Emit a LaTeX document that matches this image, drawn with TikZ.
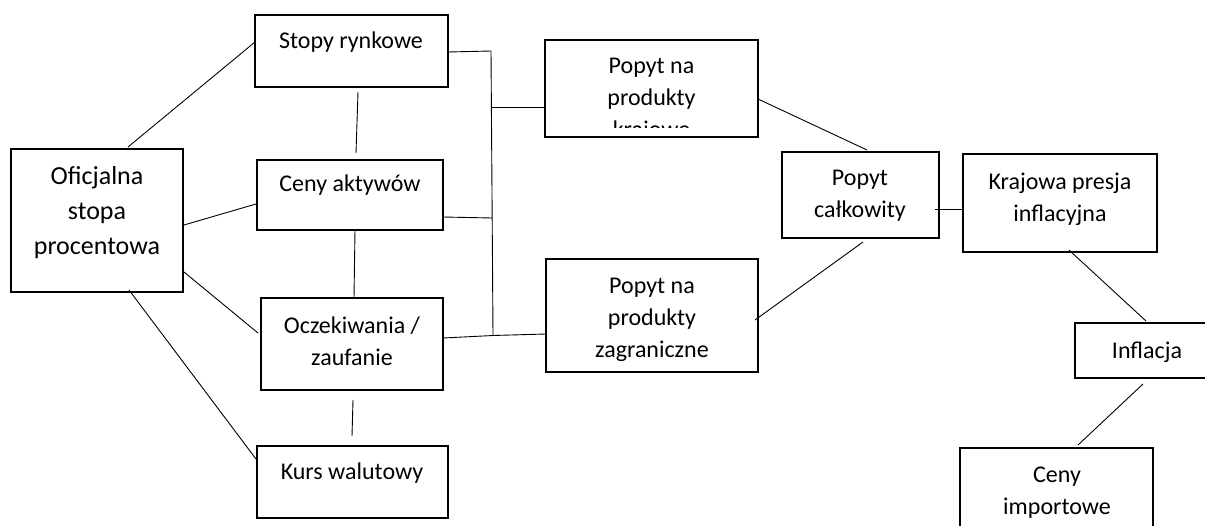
\documentclass[tikz,border=0pt]{standalone}
\usepackage{fontspec}
\setmainfont{Carlito}
\usetikzlibrary{calc}
\begin{document}
\begin{tikzpicture}[x=1pt,y=-1pt,
  box/.style={draw=black,line width=2.2pt,inner sep=0pt,outer sep=0pt,rectangle},
  txt/.style={align=center,inner sep=0pt,font=\fontsize{24}{32}\selectfont},
  bigtxt/.style={align=center,inner sep=0pt,font=\fontsize{26}{35}\selectfont},
  link/.style={draw=black,line width=0.9pt}]
\useasboundingbox (0,0) rectangle (1205,525);
\clip (0,0) rectangle (1205,525);
% boxes
\node[box,minimum width=172pt,minimum height=143pt] (ofic) at (97,220.5) {};
\node[box,minimum width=193pt,minimum height=72pt] (stopy) at (351.5,51) {};
\node[box,minimum width=186pt,minimum height=70pt] (ceny) at (350,195) {};
\node[box,minimum width=182pt,minimum height=92pt] (ocz) at (352,344) {};
\node[box,minimum width=191pt,minimum height=72pt] (kurs) at (352.5,482) {};
\node[box,minimum width=213pt,minimum height=97pt] (kraj) at (651.5,88.5) {};
\node[box,minimum width=212pt,minimum height=113pt] (zagr) at (652,315.5) {};
\node[box,minimum width=157pt,minimum height=86pt] (calk) at (860.5,195) {};
\node[box,minimum width=194pt,minimum height=98pt] (presja) at (1060,203) {};
\node[box,minimum width=135pt,minimum height=55pt] (infl) at (1142.5,350.5) {};
\node[box,minimum width=193pt,minimum height=92pt] (imp) at (1056.5,494) {};
% texts
\node[bigtxt] (ofic-t) at (97,213) {Oficjalna\\stopa\\procentowa};
\node[txt] (stopy-t) at (351,42) {Stopy rynkowe};
\node[txt] (ceny-t) at (350,185) {Ceny aktywów};
\node[txt] (ocz-t) at (352,341) {Oczekiwania /\\zaufanie};
\node[txt] (kurs-t) at (352,473) {Kurs walutowy};
\begin{scope}
  \clip (545,40) rectangle (758,127);
  \node[txt] (kraj-t) at (651.5,100) {Popyt na\\produkty\\krajowe};
\end{scope}
\node[txt] (zagr-t) at (652,320) {Popyt na\\produkty\\zagraniczne};
\node[txt] (calk-t) at (860,196) {Popyt\\całkowity};
\node[txt] (presja-t) at (1060,199) {Krajowa presja\\inflacyjna};
\node[txt] (infl-t) at (1147,352) {Inflacja};
\node[txt] (imp-t) at (1057,493) {Ceny\\importowe};
% connectors
\draw[link] ($(ofic.north)+(31,-2)$) -- ($(stopy.west)+(0,-9)$);
\draw[link] ($(ofic.east)+(1,4.5)$) -- ($(ceny.west)+(-1,9)$);
\draw[link] ($(ofic.east)+(1,51.5)$) -- ($(ocz.west)+(-3,-11)$);
\draw[link] ($(ofic.south)+(32,-2)$) -- ($(kurs.west)+(-1,-23)$);
\draw[link] ($(stopy.south)+(6.5,5)$) -- ($(ceny.north)+(6,-7)$);
\draw[link] ($(ceny.south)+(5,0)$) -- ($(ocz.north)+(2,0)$);
\draw[link] ($(ocz.south)+(1,10)$) -- ($(kurs.north)+(-0.5,-10)$);
% bus
\coordinate (b1) at (491,51);
\coordinate (b2) at (491.7,107);
\coordinate (b3) at (492.2,218);
\coordinate (b4) at (493,335.5);
\draw[link] ($(stopy.east)+(0,1)$) -- (b1) -- (b4);
\draw[link] ($(ceny.east)+(0,22)$) -- (b3);
\draw[link] ($(ocz.east)+(0,-6)$) -- (b4);
\draw[link] (b2) -- ($(kraj.west)+(0,18.5)$);
\draw[link] (b4) -- ($(zagr.west)+(0,18.5)$);
% right part
\draw[link] ($(kraj.east)+(0,10.5)$) -- ($(calk.north)+(6.5,-2)$);
\draw[link] ($(zagr.east)+(-3,4.5)$) -- ($(calk.south)+(2.5,4)$);
\draw[link] ($(calk.east)+(-4,14)$) -- ($(presja.west)+(0,6)$);
\draw[link] ($(presja.south)+(9,-2)$) -- ($(infl.north)+(3.5,-2)$);
\draw[link] ($(infl.south)+(0.5,6)$) -- ($(imp.north)+(21.5,-3)$);
\end{tikzpicture}
\end{document}
